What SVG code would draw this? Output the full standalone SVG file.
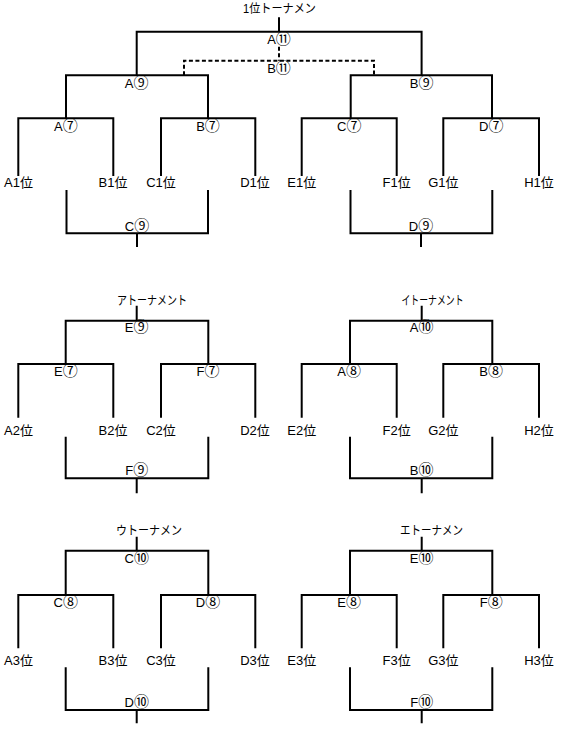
<svg xmlns="http://www.w3.org/2000/svg" width="563" height="740" viewBox="0 0 563 740">
<style>
.ln{fill:none;stroke:#000;stroke-width:2;stroke-linecap:butt;stroke-linejoin:miter}
.ds{stroke-dasharray:4 2.5}
text{font-family:"Liberation Sans","Noto Sans CJK JP",sans-serif;font-size:13px;fill:#000}
.m{text-anchor:middle}
.t{font-size:12.5px}
.c{font-family:"Noto Sans CJK JP",sans-serif;font-size:15px}
</style>
<rect width="563" height="740" fill="#fff"/>
<g id="connectors">
<path class="ln" d="M279,17.3V31.7M136.7,75.3V31.7H421.6V75.3M66,118.3V75.3H208V118.3M350.7,118.3V75.3H492V118.3"/>
<path class="ln" d="M18.3,176V118.3H113.3V176M161,176V118.3H255.3V176M301.7,176V118.3H396.7V176M443.3,176V118.3H539V176"/>
<path class="ln" d="M66.5,190V233.3H208V190M137,233.3V247M350.5,190V233.3H492.3V190M421,233.3V247"/>
<path class="ln ds" d="M279,46.7V60.7M184,75.3V60.7H374V75.3"/>
<path class="ln" d="M136.7,305.7V320.7M65.7,364V320.7H208.3V364M18.3,417.7V364H113.3V417.7M161,417.7V364H255.3V417.7M65.7,436.7V478.3H208.3V436.7M136.7,478.3V493.3"/>
<path class="ln" d="M421.7,305.7V320.7M350,364V320.7H492.3V364M301.7,417.7V364H396.7V417.7M443.3,417.7V364H539V417.7M350,436.7V478.3H492.3V436.7M421.7,478.3V493.3"/>
<path class="ln" d="M136.7,536.7V550.7M65.7,595V550.7H208.3V595M18.3,648.3V595H113.3V648.3M161,648.3V595H255.3V648.3M65.7,667.3V710H208.3V667.3M136.7,710V723.3"/>
<path class="ln" d="M421.7,536.7V550.7M350,595V550.7H492.3V595M301.7,648.3V595H396.7V648.3M443.3,648.3V595H539V648.3M350,667.3V710H492.3V667.3M421.7,710V723.3"/>
</g>
<g id="titles">
<text class="t" x="243" y="12.5" textLength="73" lengthAdjust="spacingAndGlyphs">1位トーナメン</text>
<text class="t" x="117" y="304.5" textLength="70" lengthAdjust="spacingAndGlyphs">アトーナメント</text>
<text class="t" x="401.5" y="304.5" textLength="62" lengthAdjust="spacingAndGlyphs">イトーナメント</text>
<text class="t" x="116" y="534.5" textLength="66" lengthAdjust="spacingAndGlyphs">ウトーナメン</text>
<text class="t" x="400" y="534.5" textLength="63" lengthAdjust="spacingAndGlyphs">エトーナメン</text>
</g>
<g id="matches-top">
<g id="m-A11"><text class="m" x="279" y="44">A<tspan class="c">⑪</tspan></text></g>
<g id="m-B11"><text class="m" x="279" y="73">B<tspan class="c">⑪</tspan></text></g>
<g id="m-A9"><text class="m" x="136.7" y="87.5">A<tspan class="c">⑨</tspan></text></g>
<g id="m-B9"><text class="m" x="421.6" y="87.5">B<tspan class="c">⑨</tspan></text></g>
<g id="m-A7"><text class="m" x="65.8" y="130.5">A<tspan class="c">⑦</tspan></text></g>
<g id="m-B7"><text class="m" x="208" y="130.5">B<tspan class="c">⑦</tspan></text></g>
<g id="m-C7"><text class="m" x="349.2" y="130.5">C<tspan class="c">⑦</tspan></text></g>
<g id="m-D7"><text class="m" x="491.2" y="130.5">D<tspan class="c">⑦</tspan></text></g>
<g id="m-C9"><text class="m" x="137" y="230.5">C<tspan class="c">⑨</tspan></text></g>
<g id="m-D9"><text class="m" x="421" y="230.5">D<tspan class="c">⑨</tspan></text></g>
</g>
<g id="leaves-top">
<g id="l-A1"><text class="m" x="18.5" y="187">A1位</text></g>
<g id="l-B1"><text class="m" x="113" y="187">B1位</text></g>
<g id="l-C1"><text class="m" x="161" y="187">C1位</text></g>
<g id="l-D1"><text class="m" x="255" y="187">D1位</text></g>
<g id="l-E1"><text class="m" x="301.7" y="187">E1位</text></g>
<g id="l-F1"><text class="m" x="396.7" y="187">F1位</text></g>
<g id="l-G1"><text class="m" x="443.3" y="187">G1位</text></g>
<g id="l-H1"><text class="m" x="539" y="187">H1位</text></g>
</g>
<g id="matches-mid">
<g id="m-E9"><text class="m" x="136.7" y="332">E<tspan class="c">⑨</tspan></text></g>
<g id="m-E7"><text class="m" x="65.8" y="376">E<tspan class="c">⑦</tspan></text></g>
<g id="m-F7"><text class="m" x="208" y="376">F<tspan class="c">⑦</tspan></text></g>
<g id="m-F9"><text class="m" x="136.7" y="474.5">F<tspan class="c">⑨</tspan></text></g>
<g id="m-A10"><text class="m" x="421.7" y="332">A<tspan class="c">⑩</tspan></text></g>
<g id="m-A8"><text class="m" x="349.2" y="376">A<tspan class="c">⑧</tspan></text></g>
<g id="m-B8"><text class="m" x="491.2" y="376">B<tspan class="c">⑧</tspan></text></g>
<g id="m-B10"><text class="m" x="421.7" y="474.5">B<tspan class="c">⑩</tspan></text></g>
</g>
<g id="leaves-mid">
<g id="l-A2"><text class="m" x="18.5" y="434.5">A2位</text></g>
<g id="l-B2"><text class="m" x="113" y="434.5">B2位</text></g>
<g id="l-C2"><text class="m" x="161" y="434.5">C2位</text></g>
<g id="l-D2"><text class="m" x="255" y="434.5">D2位</text></g>
<g id="l-E2"><text class="m" x="301.7" y="434.5">E2位</text></g>
<g id="l-F2"><text class="m" x="396.7" y="434.5">F2位</text></g>
<g id="l-G2"><text class="m" x="443.3" y="434.5">G2位</text></g>
<g id="l-H2"><text class="m" x="539" y="434.5">H2位</text></g>
</g>
<g id="matches-bot">
<g id="m-C10"><text class="m" x="136.7" y="562.5">C<tspan class="c">⑩</tspan></text></g>
<g id="m-C8"><text class="m" x="65.8" y="606.5">C<tspan class="c">⑧</tspan></text></g>
<g id="m-D8"><text class="m" x="208" y="606.5">D<tspan class="c">⑧</tspan></text></g>
<g id="m-D10"><text class="m" x="136.7" y="706.5">D<tspan class="c">⑩</tspan></text></g>
<g id="m-E10"><text class="m" x="421.7" y="562.5">E<tspan class="c">⑩</tspan></text></g>
<g id="m-E8"><text class="m" x="349.2" y="606.5">E<tspan class="c">⑧</tspan></text></g>
<g id="m-F8"><text class="m" x="491.2" y="606.5">F<tspan class="c">⑧</tspan></text></g>
<g id="m-F10"><text class="m" x="421.7" y="706.5">F<tspan class="c">⑩</tspan></text></g>
</g>
<g id="leaves-bot">
<g id="l-A3"><text class="m" x="18.5" y="664.5">A3位</text></g>
<g id="l-B3"><text class="m" x="113" y="664.5">B3位</text></g>
<g id="l-C3"><text class="m" x="161" y="664.5">C3位</text></g>
<g id="l-D3"><text class="m" x="255" y="664.5">D3位</text></g>
<g id="l-E3"><text class="m" x="301.7" y="664.5">E3位</text></g>
<g id="l-F3"><text class="m" x="396.7" y="664.5">F3位</text></g>
<g id="l-G3"><text class="m" x="443.3" y="664.5">G3位</text></g>
<g id="l-H3"><text class="m" x="539" y="664.5">H3位</text></g>
</g>
</svg>
